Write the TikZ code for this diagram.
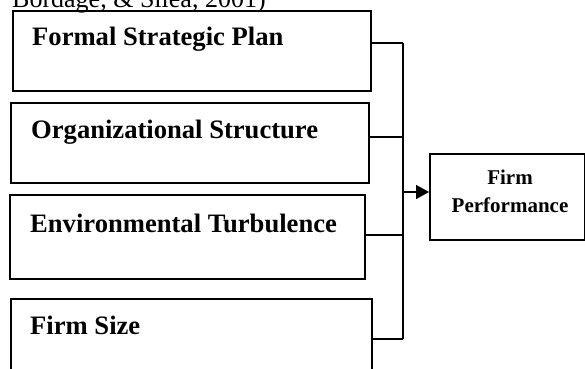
\documentclass[tikz,border=0pt]{standalone}
\usepackage{fontspec}
\setmainfont{Liberation Serif}
\usetikzlibrary{arrows.meta}
\begin{document}
\begin{tikzpicture}[x=1pt,y=-1pt,
  box/.style={draw=black,line width=1.7pt,rectangle,anchor=north west,inner sep=0pt},
  lbl/.style={font=\bfseries\fontsize{26.6}{30}\selectfont,anchor=base west,inner sep=0pt},
  conn/.style={draw=black,line width=1.6pt}]
\useasboundingbox (0,0) rectangle (585,368);
\clip (0,0) rectangle (585,368);
\node[anchor=base west,inner sep=0pt,font=\fontsize{26}{30}\selectfont] (cite) at (12,7) {Bordage, \& Silea, 2001)};
\node[box,minimum width=358pt,minimum height=80pt] (b1) at (12,10) {};
\node[box,minimum width=358pt,minimum height=80pt] (b2) at (10,102) {};
\node[box,minimum width=355pt,minimum height=84pt] (b3) at (9,194) {};
\node[box,minimum width=361pt,minimum height=90pt] (b4) at (10,298) {};
\node[lbl] (t1) at (32,45) {Formal Strategic Plan};
\node[lbl] (t2) at (31,138) {Organizational Structure};
\node[lbl] (t3) at (30,232) {Environmental Turbulence};
\node[lbl] (t4) at (30,334) {Firm Size};
\node[box,minimum width=155pt,minimum height=86pt] (fp) at (429,153) {};
\node[inner sep=0pt,anchor=base,align=center,
      font=\bfseries\fontsize{21}{28}\selectfont] (fpt) at (510,212) {Firm\\Performance};
\coordinate (j1) at (403,43);
\coordinate (j2) at (403,137);
\coordinate (j3) at (403,235);
\coordinate (j4) at (403,339);
\coordinate (jm) at (403,192);
\draw[conn] (b1.east |- j1) -- (j1);
\draw[conn] (b2.east |- j2) -- (j2);
\draw[conn] (b3.east |- j3) -- (j3);
\draw[conn] (b4.east |- j4) -- (j4);
\draw[conn] (j1) -- (j4);
\draw[conn,-{Triangle[length=13pt,width=14pt]}] (jm) -- (jm -| fp.west);
\end{tikzpicture}
\end{document}
